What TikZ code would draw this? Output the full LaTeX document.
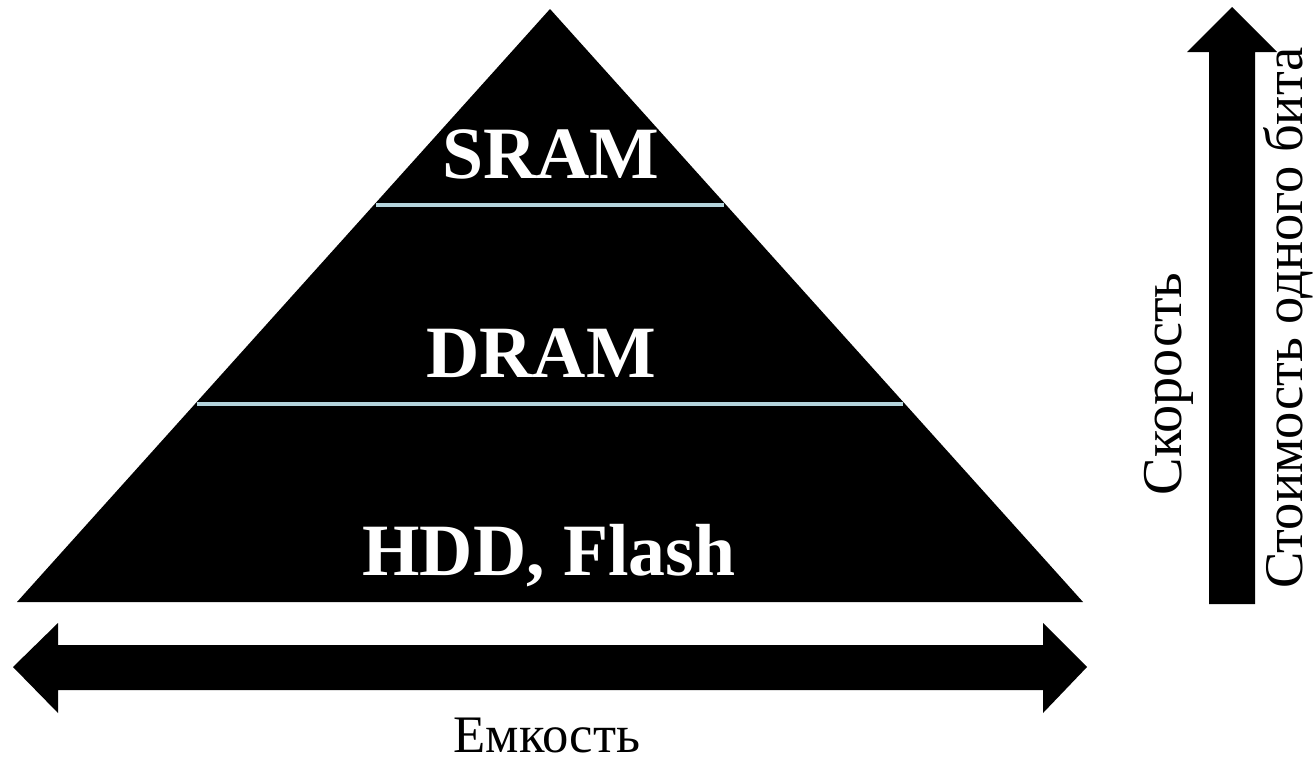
\documentclass[tikz,border=0pt]{standalone}
\usepackage{fontspec}
\setmainfont{Liberation Serif}
\usepackage{xcolor}
\definecolor{divblue}{HTML}{B4D4DC}

\begin{document}
\begin{tikzpicture}[x = 0.02cm, y = -0.02cm]
    \useasboundingbox (0,0) rectangle (1315,764);
    \begin{scope}
        % pyramid
        \fill[black] (17,602) -- (550,9) -- (1083,602) -- cycle;
        \draw[divblue, line width = 2pt] (376,205) -- (724,205);
        \draw[divblue, line width = 2pt] (197,404) -- (903,404);

        \node[text = white, font = \fontsize{42}{50}\selectfont\bfseries] (sram) at (551,154) {SRAM};
        \node[text = white, font = \fontsize{42}{50}\selectfont\bfseries] (dram) at (541,353) {DRAM};
        \node[text = white, font = \fontsize{42}{50}\selectfont\bfseries] (hdd) at (549,556) {HDD, Flash};
    \end{scope}
    \begin{scope}
        % capacity arrow
        \fill[black] (13,667) -- (58,623) -- (58,645) -- (1043,645) -- (1043,623) -- (1087,667)
            -- (1043,713) -- (1043,690) -- (58,690) -- (58,713) -- cycle;
        \node[anchor = base, inner sep = 0pt, font = \fontsize{30}{36}\selectfont] (cap) at (547,752) {Емкость};
    \end{scope}
    \begin{scope}
        % speed / cost arrow
        \fill[black] (1232,7) -- (1277,52) -- (1255,52) -- (1255,604) -- (1209,604) -- (1209,52)
            -- (1187,52) -- cycle;
        \node[rotate = 90, font = \fontsize{32}{38}\selectfont] (speed) at (1169,384) {Скорость};
        \node[rotate = 90, inner sep = 0pt, font = \fontsize{31}{37}\selectfont] (cost) at (1288,318) {Стоимость одного бита};
    \end{scope}
\end{tikzpicture}
\end{document}
